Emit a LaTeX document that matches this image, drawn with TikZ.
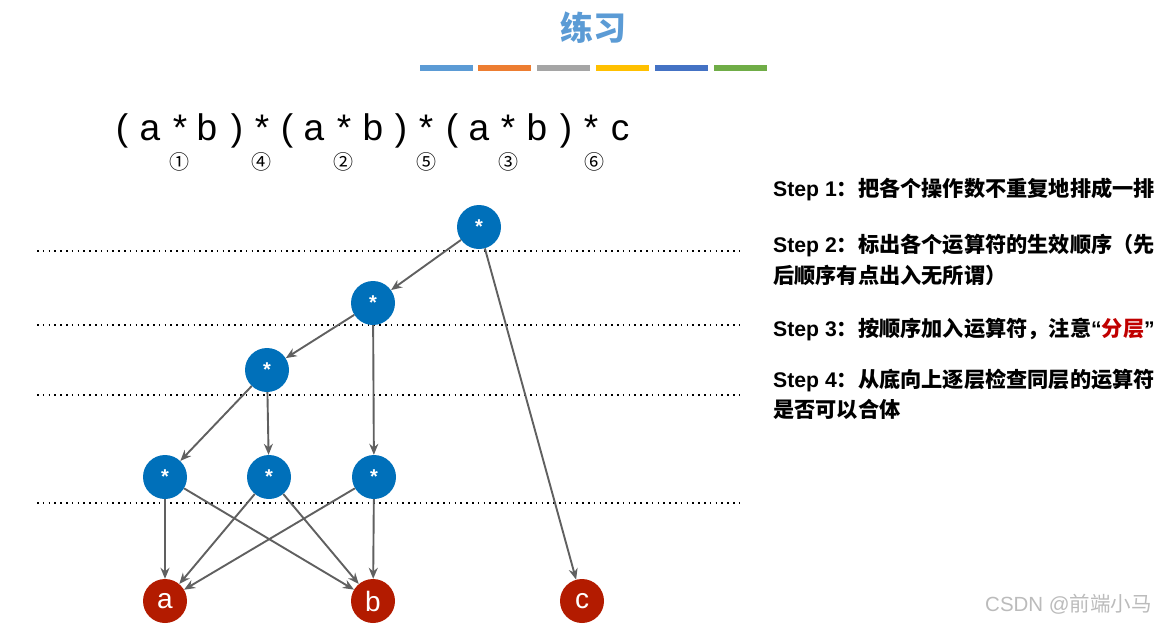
\documentclass[tikz,border=0pt]{standalone}
\usepackage{fontspec}
\setmainfont{Liberation Sans}
\newfontfamily\cjk{Noto Sans CJK SC}
\usetikzlibrary{arrows.meta}
\definecolor{opblue}{HTML}{0070BA}
\definecolor{leafred}{HTML}{B31B00}
\definecolor{edgegray}{HTML}{606060}
\definecolor{titleblue}{HTML}{5B9BD5}
\definecolor{barA}{HTML}{5B9BD5}
\definecolor{barB}{HTML}{ED7D31}
\definecolor{barC}{HTML}{A5A5A5}
\definecolor{barD}{HTML}{FFC000}
\definecolor{barE}{HTML}{4472C4}
\definecolor{barF}{HTML}{70AD47}
\definecolor{hlred}{HTML}{C00000}
\definecolor{wmgray}{HTML}{BBBBBB}
\tikzset{
  opnode/.style={circle, fill=opblue, minimum size=44pt, inner sep=0pt, text=white, font=\fontsize{20}{22}\selectfont\bfseries},
  leafnode/.style={circle, fill=leafred, minimum size=44pt, inner sep=0pt, text=white, font=\fontsize{28}{30}\selectfont},
  edgearrow/.style={draw=edgegray, line width=1.9pt, -{Stealth[length=11pt,width=9pt]}},
  layerline/.style={draw=black, line width=1.6pt, dash pattern=on 1.6pt off 4.2pt},
  tok/.style={anchor=base, inner sep=0pt, font=\fontsize{37}{40}\selectfont},
  circnum/.style={inner sep=0pt, font=\cjk\fontsize{20}{22}\selectfont},
  steptext/.style={anchor=base west, inner sep=0pt, font=\fontsize{21.2}{24}\selectfont\bfseries},
  colorbar/.style={minimum width=53pt, minimum height=6pt, inner sep=0pt}
}
\begin{document}
\begin{tikzpicture}[x=1pt,y=-1pt]
\useasboundingbox (0,0) rectangle (1161,624);
% title
\node[text=titleblue, font=\cjk\fontsize{33}{35}\selectfont\bfseries] (title) at (593,28) {练习};
\node[colorbar, fill=barA] (b1) at (446.5,68) {};
\node[colorbar, fill=barB] (b2) at (504,68) {};
\node[colorbar, fill=barC] (b3) at (563,68) {};
\node[colorbar, fill=barD] (b4) at (622,68) {};
\node[colorbar, fill=barE] (b5) at (681,68) {};
\node[colorbar, fill=barF] (b6) at (740.5,68) {};
% expression
\node[tok] (t1) at (122,140) {(};
\node[tok] (t2) at (150,140) {a};
\node[tok] (t3) at (180,140) {*};
\node[tok] (t4) at (207,140) {b};
\node[tok] (t5) at (237,140) {)};
\node[tok] (t6) at (262,140) {*};
\node[tok] (t7) at (287,140) {(};
\node[tok] (t8) at (314,140) {a};
\node[tok] (t9) at (344,140) {*};
\node[tok] (t10) at (373,140) {b};
\node[tok] (t11) at (401,140) {)};
\node[tok] (t12) at (426,140) {*};
\node[tok] (t13) at (452,140) {(};
\node[tok] (t14) at (479,140) {a};
\node[tok] (t15) at (508,140) {*};
\node[tok] (t16) at (537,140) {b};
\node[tok] (t17) at (566,140) {)};
\node[tok] (t18) at (591,140) {*};
\node[tok] (t19) at (620,140) {c};
\node[circnum] (c1) at (179,162) {①};
\node[circnum] (c4) at (261,162) {④};
\node[circnum] (c2) at (343,162) {②};
\node[circnum] (c5) at (426,162) {⑤};
\node[circnum] (c3) at (508,162) {③};
\node[circnum] (c6) at (594,162) {⑥};
% layer lines
\coordinate (l1a) at (37,251); \coordinate (l1b) at (743,251);
\coordinate (l2a) at (37,325); \coordinate (l2b) at (743,325);
\coordinate (l3a) at (37,395); \coordinate (l3b) at (743,395);
\coordinate (l4a) at (37,503); \coordinate (l4b) at (743,503);
\draw[layerline] (l1a) -- (l1b);
\draw[layerline] (l2a) -- (l2b);
\draw[layerline] (l3a) -- (l3b);
\draw[layerline] (l4a) -- (l4b);
% nodes
\node[opnode] (top) at (479,227) {*};
\node[opnode] (n2) at (373,303) {*};
\node[opnode] (n3) at (267,370) {*};
\node[opnode] (m1) at (165,477) {*};
\node[opnode] (m2) at (269,477) {*};
\node[opnode] (m3) at (374,477) {*};
\node[leafnode] (a) at (165,601) {a};
\node[leafnode] (b) at (373,601) {b};
\node[leafnode] (c) at (582,601) {c};
% edges
\draw[edgearrow] (top) -- (n2);
\draw[edgearrow] (top) -- (c);
\draw[edgearrow] (n2) -- (n3);
\draw[edgearrow] (n2) -- (m3);
\draw[edgearrow] (n3) -- (m1);
\draw[edgearrow] (n3) -- (m2);
\draw[edgearrow] (m1) -- (a);
\draw[edgearrow] (m1) -- (b);
\draw[edgearrow] (m2) -- (a);
\draw[edgearrow] (m2) -- (b);
\draw[edgearrow] (m3) -- (a);
\draw[edgearrow] (m3) -- (b);
% steps
\node[steptext] (s1) at (773,196) {Step 1{\cjk ：把各个操作数不重复地排成一排}};
\node[steptext] (s2) at (773,252) {Step 2{\cjk ：标出各个运算符的生效顺序（先}};
\node[steptext] (s2b) at (773,283) {{\cjk 后顺序有点出入无所谓）}};
\node[steptext] (s3) at (773,336) {Step 3{\cjk ：按顺序加入运算符，注意}“{\cjk\color{hlred}分层}”};
\node[steptext] (s4) at (773,387) {Step 4{\cjk ：从底向上逐层检查同层的运算符}};
\node[steptext] (s4b) at (773,417) {{\cjk 是否可以合体}};
% watermark
\node[anchor=base west, inner sep=0pt, text=wmgray, font=\fontsize{20.5}{22}\selectfont] (wm) at (985,611) {CSDN @{\cjk 前端小马}};
\end{tikzpicture}
\end{document}
